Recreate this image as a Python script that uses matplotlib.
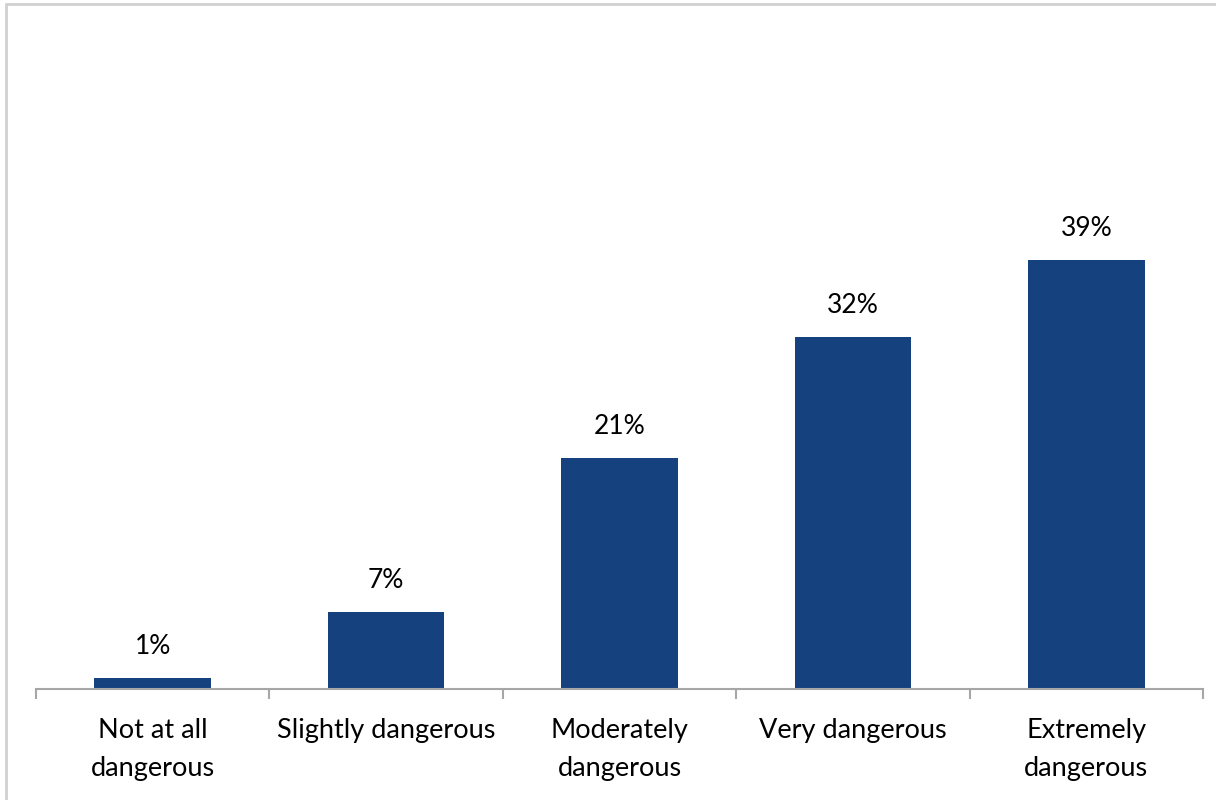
import matplotlib as mpl
import matplotlib.pyplot as plt
from matplotlib.patches import Rectangle
mpl.use('Agg')

# dados
categorias = ['Not at all\ndangerous', 'Slightly dangerous', 'Moderately\ndangerous',
              'Very dangerous', 'Extremely\ndangerous']
valores = [1, 7, 21, 32, 39]

W, H = 1216, 800
fig = plt.figure(figsize=(W / 100, H / 100), dpi=100)
plt.rcParams['font.family'] = ['Lato', 'DejaVu Sans']

# moldura cinza (só topo e esquerda aparecem)
fig.patches.append(Rectangle((6 / W, -0.1), 1.2, (H - 4) / H + 0.1, transform=fig.transFigure,
                             fill=False, edgecolor='#D0D0D0', linewidth=2))

# eixo: base em y=689, de x=36 a x=1203
x0, x1 = 36, 1203
ybase = 689
escala = 11.0  # px por %
ytop_val = 42
ax = fig.add_axes([x0 / W, (H - ybase) / H, (x1 - x0) / W, ytop_val * escala / H])

pos = list(range(len(categorias)))
ax.bar(pos, valores, width=0.5, color='#15417E')
for p, v in zip(pos, valores):
    ax.annotate(f'{v}%', (p, v), xytext=(0, 14), textcoords='offset points',
                ha='center', va='bottom', fontsize=19, color='black')

ax.set_xlim(-0.5, len(categorias) - 0.5)
ax.set_ylim(0, ytop_val)
ax.set_yticks([])
ax.set_xticks(pos)
ax.set_xticklabels(categorias, fontsize=19.5, linespacing=1.65)
ax.tick_params(axis='x', length=0, pad=21)
ax.set_xticks([i - 0.5 for i in range(len(categorias) + 1)], minor=True)
ax.tick_params(axis='x', which='minor', length=7, color='#A6A6A6', width=1.5)
for s in ['top', 'right', 'left']:
    ax.spines[s].set_visible(False)
ax.spines['bottom'].set_color('#A6A6A6')
ax.spines['bottom'].set_linewidth(1.5)
ax.patch.set_alpha(0)

plt.savefig('out.png', dpi=100)
